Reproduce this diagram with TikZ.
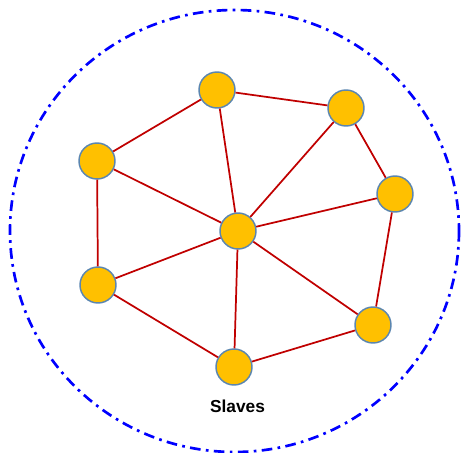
\documentclass[tikz,border=0pt]{standalone}
\usepackage{fontspec}
\setmainfont{Liberation Sans}
\definecolor{nodefill}{HTML}{FFC000}
\definecolor{nodeline}{HTML}{5B86B0}
\definecolor{edgered}{HTML}{C00000}
\tikzset{
  slave/.style={circle, draw=nodeline, line width=1.1pt, fill=nodefill, minimum size=27pt, inner sep=0pt},
  link/.style={draw=edgered, line width=1.3pt},
  boundary/.style={draw=blue, line width=2pt, dash pattern=on 8pt off 4pt on 2pt off 4pt}
}
\begin{document}
\begin{tikzpicture}[x=0.75pt,y=-0.75pt]
\useasboundingbox (0,0) rectangle (461,453);
\draw[boundary] (234.5,231) ellipse [x radius=224.5, y radius=221];
\node[slave] (c) at (238,231) {};
\node[slave] (t) at (217,90) {};
\node[slave] (tr) at (346,108) {};
\node[slave] (r) at (395,194) {};
\node[slave] (br) at (373,325) {};
\node[slave] (b) at (234,367) {};
\node[slave] (bl) at (98,285) {};
\node[slave] (l) at (97,161) {};
\foreach \n in {t,tr,r,br,b,bl,l} \draw[link] (c) -- (\n);
\draw[link] (l) -- (t);
\draw[link] (t) -- (tr);
\draw[link] (tr) -- (r);
\draw[link] (r) -- (br);
\draw[link] (br) -- (b);
\draw[link] (b) -- (bl);
\draw[link] (bl) -- (l);
\node[font=\bfseries\fontsize{13}{15}\selectfont] (lab) at (237.5,406) {Slaves};
\end{tikzpicture}
\end{document}
